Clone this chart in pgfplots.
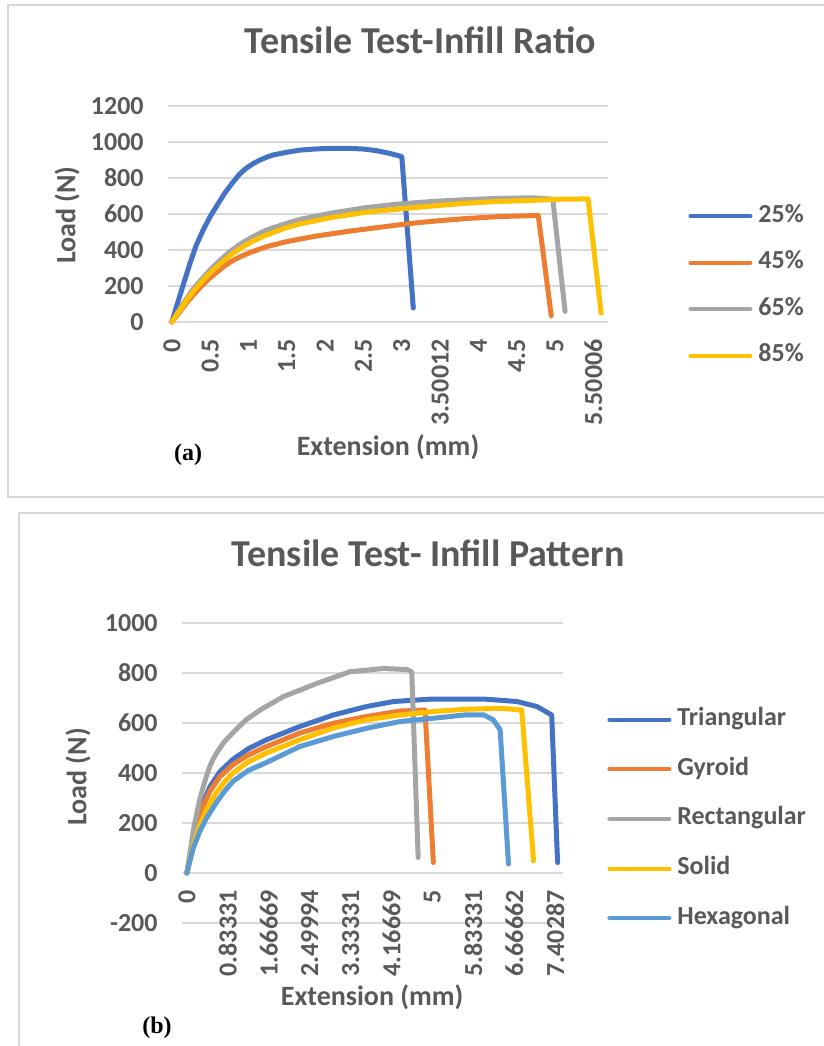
\documentclass[border=0pt]{standalone}
\usepackage{pgfplots}
\pgfplotsset{compat=1.18}
\usepackage{fontspec}
\setmainfont{Carlito}
\newfontfamily\timesb{Liberation Serif}
\definecolor{txt}{HTML}{595959}
\definecolor{gridc}{HTML}{D9D9D9}
\definecolor{framec}{HTML}{D6D6D6}
\definecolor{c1}{HTML}{4472C4}
\definecolor{c2}{HTML}{ED7D31}
\definecolor{c3}{HTML}{A5A5A5}
\definecolor{c4}{HTML}{FFC000}
\definecolor{c5}{HTML}{5B9BD5}
\pgfplotsset{
  common/.style={
    scale only axis,
    clip=false,
    axis line style={draw=none},
    major tick length=0pt,
    ymajorgrids,
    grid style={gridc, line width=1pt},
    tick label style={font=\fontsize{13}{15}\selectfont\bfseries, text=txt},
    xticklabel style={rotate=90, anchor=east, inner sep=0pt},
    yticklabel style={anchor=east, inner sep=0pt},
    xticklabel shift=8.5pt,
    yticklabel shift=12pt,
    every axis plot/.append style={line width=2.5pt, line join=round, line cap=round},
    label style={font=\fontsize{14}{16}\selectfont\bfseries, text=txt},
    title style={font=\fontsize{19}{22}\selectfont\bfseries, text=txt, anchor=center},
    legend style={draw=none, fill=none, inner sep=0pt, font=\fontsize{13}{15}\selectfont\bfseries, text=txt, column sep=3pt, nodes={inner sep=0pt, text height=9pt, text depth=3pt}},
    legend image code/.code={\draw[##1, line width=2pt, line cap=round] (1pt,0pt) -- (31pt,0pt);},
    legend cell align=left,
  }
}
\begin{document}
\begin{tikzpicture}
\useasboundingbox (0,0) rectangle (412pt,-523pt);
\clip (0,0) rectangle (412pt,-523pt);
\draw[framec, line width=1pt] (4pt,-2.5pt) rectangle (440pt,-248.5pt);
\draw[framec, line width=1pt] (9.5pt,-256.5pt) rectangle (440pt,-560pt);

\begin{axis}[common,
  at={(84pt,-161pt)}, anchor=south west,
  width=220pt, height=108pt,
  axis x line*=bottom, axis y line*=left,
  xmin=-0.05, xmax=5.69, ymin=0, ymax=1200,
  xtick={0,0.5,1,1.5,2,2.5,3,3.5,4,4.5,5,5.5},
  xticklabels={0,0.5,1,1.5,2,2.5,3,3.50012,4,4.5,5,5.50006},
  ytick={0,200,400,600,800,1000,1200},
  yticklabels={0,200,400,600,800,1000,1200},
  title={Tensile Test-Infill Ratio},
  title style={at={(axis description cs:0.573,1.25)}},
  xlabel={Extension (mm)},
  xlabel style={at={(axis description cs:0.5,-0.579)}, anchor=center},
  ylabel={Load (N)},
  ylabel style={at={(axis description cs:-0.2295,0.495)}, anchor=center},
  legend style={at={(axis description cs:1.182,0.167)}, anchor=west, row sep=11.25pt},
]
\addplot[c1] coordinates {(0,0) (0.08,112) (0.16,222) (0.24,330) (0.32,428) (0.41,512) (0.50,586) (0.60,655) (0.69,716) (0.80,778) (0.88,820) (0.97,854) (1.06,880) (1.15,900) (1.24,916) (1.32,928) (1.50,943) (1.67,955) (1.90,962) (2.10,965) (2.30,965) (2.50,961) (2.67,952) (2.84,937) (3.0,919) (3.15,78)};
\addlegendentry{25\%}
\addplot[c2] coordinates {(0,0) (0.10,55) (0.19,105) (0.28,150) (0.37,192) (0.47,235) (0.58,275) (0.69,312) (0.80,343) (0.91,366) (1.02,386) (1.23,418) (1.50,447) (1.89,478) (2.32,505) (2.80,531) (3.10,547) (3.41,560) (3.84,575) (4.28,586) (4.78,592) (4.95,35)};
\addlegendentry{45\%}
\addplot[c3] coordinates {(0,0) (0.09,62) (0.18,122) (0.27,178) (0.37,228) (0.50,290) (0.63,343) (0.76,392) (0.89,432) (1.06,475) (1.23,510) (1.45,542) (1.67,570) (2.10,606) (2.54,636) (2.97,656) (3.41,670) (3.84,680) (4.28,687) (4.71,690) (4.97,682) (5.13,59)};
\addlegendentry{65\%}
\addplot[c4] coordinates {(0,0) (0.09,57) (0.18,112) (0.27,165) (0.37,214) (0.50,273) (0.63,323) (0.76,370) (0.89,408) (1.06,450) (1.23,482) (1.45,518) (1.67,545) (2.10,582) (2.54,610) (2.97,628) (3.41,645) (3.84,660) (4.28,670) (4.71,676) (5.06,682) (5.43,684) (5.60,50)};
\addlegendentry{85\%}
\end{axis}

\begin{axis}[common,
  at={(91pt,-461.5pt)}, anchor=south west,
  width=190.5pt, height=150pt,
  axis x line*=middle, axis y line*=left,
  xmin=-0.10, xmax=7.66, ymin=-200, ymax=1000,
  xtick={0,0.83333,1.66667,2.5,3.33333,4.16667,5,5.83333,6.66667,7.5},
  xticklabels={0,0.83331,1.66669,2.49994,3.33331,4.16669,5,5.83331,6.66662,7.40287},
  ytick={-200,0,200,400,600,800,1000},
  yticklabels={-200,0,200,400,600,800,1000},
  title={Tensile Test- Infill Pattern},
  title style={at={(axis description cs:0.646,1.193)}},
  xlabel={Extension (mm)},
  xlabel style={at={(axis description cs:0.499,-0.247)}, anchor=center},
  ylabel={Load (N)},
  ylabel style={at={(axis description cs:-0.273,0.487)}, anchor=center},
  legend style={at={(axis description cs:1.1155,0.347)}, anchor=west, row sep=12.8pt},
]
\addplot[c1] coordinates {(0,0) (0.07,75) (0.13,135) (0.20,190) (0.26,235) (0.36,295) (0.47,345) (0.67,405) (0.94,455) (1.25,497) (1.62,533) (2.30,586) (2.98,632) (3.66,666) (4.21,686) (4.68,692) (5.02,696) (6.04,696) (6.72,686) (7.13,666) (7.43,632) (7.55,42)};
\addlegendentry{Triangular}
\addplot[c2] coordinates {(0,0) (0.07,70) (0.13,125) (0.20,180) (0.26,222) (0.36,280) (0.47,327) (0.67,385) (0.94,434) (1.25,472) (1.62,506) (2.30,560) (2.98,599) (3.66,626) (4.34,648) (4.85,652) (5.02,42)};
\addlegendentry{Gyroid}
\addplot[c3] coordinates {(0,0) (0.07,90) (0.13,170) (0.20,238) (0.26,292) (0.34,350) (0.41,395) (0.47,428) (0.54,458) (0.62,485) (0.75,522) (0.94,562) (1.20,612) (1.49,652) (1.96,705) (2.64,758) (3.32,805) (4.0,818) (4.48,814) (4.58,805) (4.71,62)};
\addlegendentry{Rectangular}
\addplot[c4] coordinates {(0,0) (0.07,60) (0.13,110) (0.26,188) (0.40,255) (0.60,321) (0.77,365) (0.94,400) (1.25,445) (1.62,480) (2.30,533) (2.98,580) (3.66,613) (4.34,632) (5.02,646) (5.70,655) (6.38,659) (6.82,652) (7.06,49)};
\addlegendentry{Solid}
\addplot[c5] coordinates {(0,0) (0.07,55) (0.13,100) (0.20,135) (0.26,165) (0.40,220) (0.60,282) (0.77,328) (0.94,367) (1.25,410) (1.62,442) (2.30,506) (2.98,546) (3.66,579) (4.34,606) (5.02,619) (5.70,633) (6.04,633) (6.24,613) (6.38,573) (6.55,36)};
\addlegendentry{Hexagonal}
\end{axis}

\node[font=\timesb\bfseries\fontsize{12}{14}\selectfont] at (94pt,-227.5pt) {(a)};
\node[font=\timesb\bfseries\fontsize{12}{14}\selectfont] at (78.5pt,-514pt) {(b)};
\end{tikzpicture}
\end{document}
